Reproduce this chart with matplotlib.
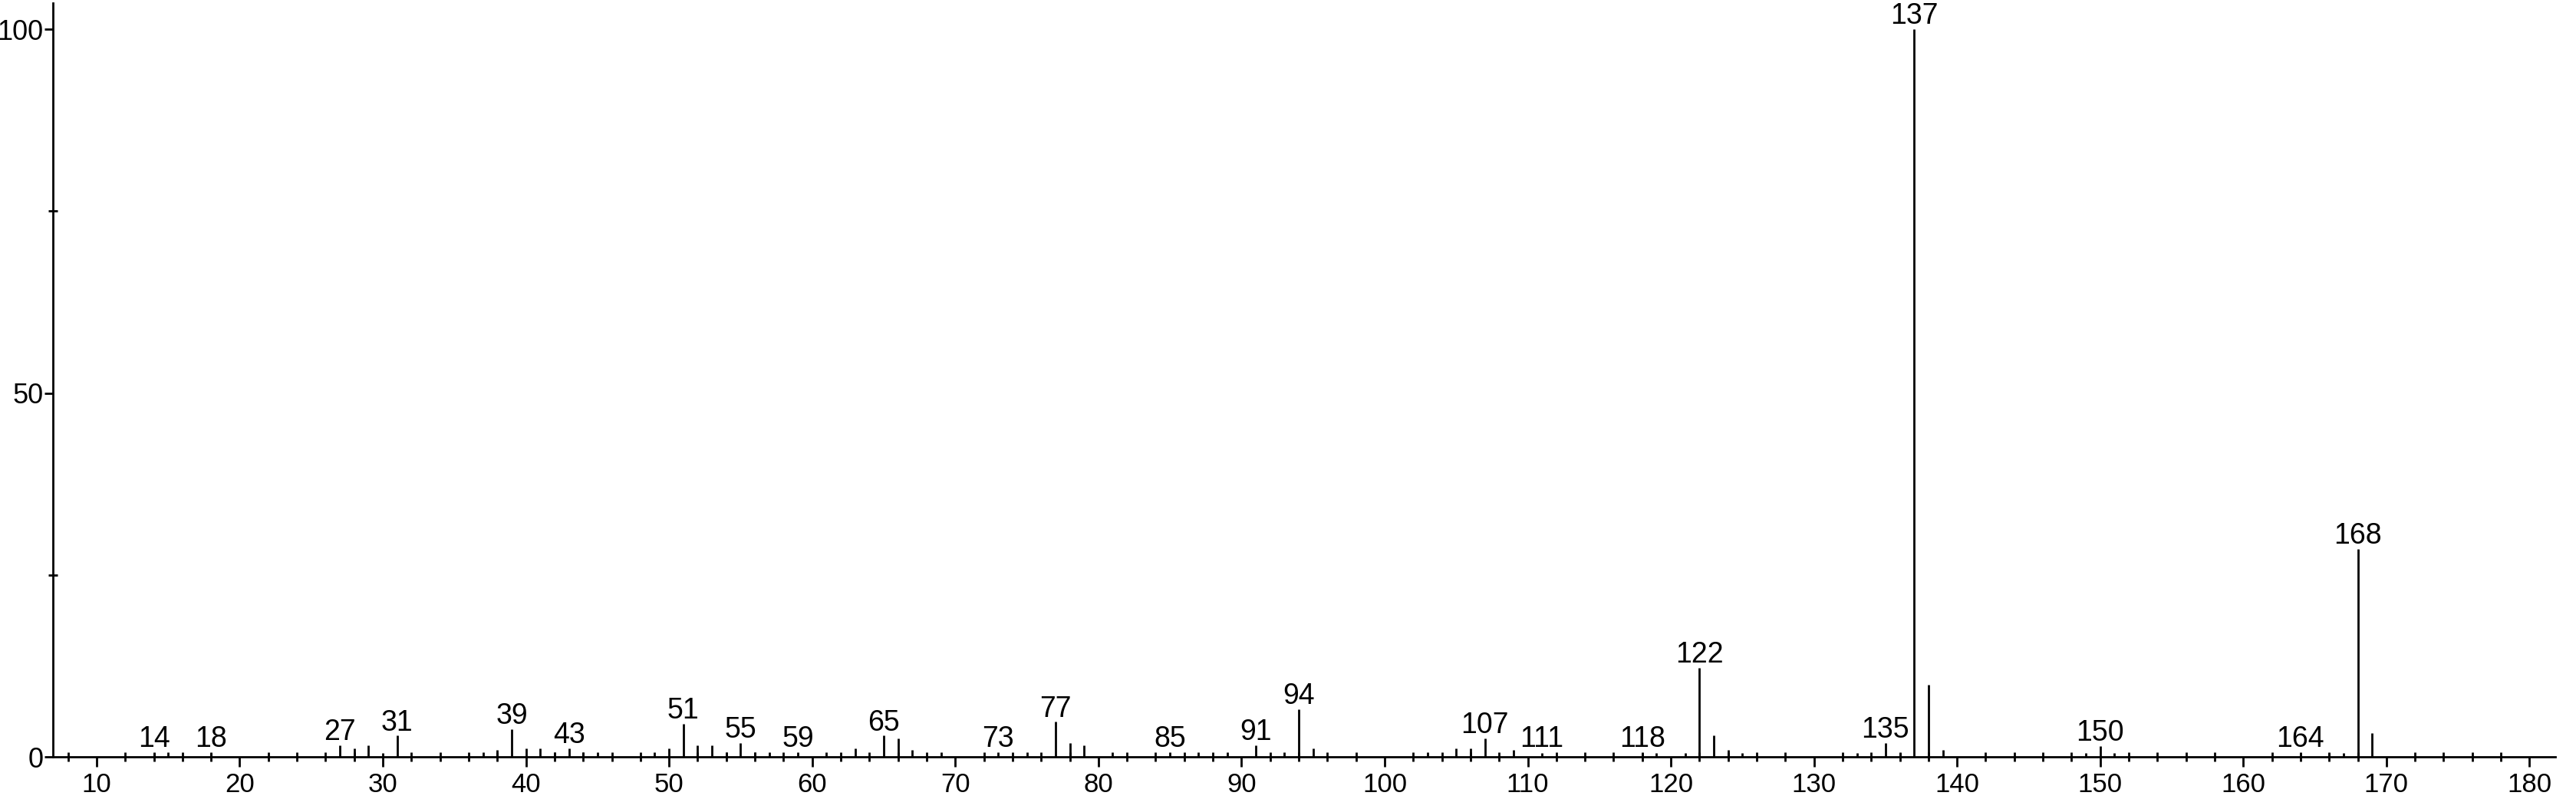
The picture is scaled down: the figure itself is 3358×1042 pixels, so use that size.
import matplotlib.pyplot as plt
from matplotlib.ticker import MultipleLocator, FixedLocator

plt.rcParams['font.family'] = ['Liberation Sans', 'DejaVu Sans']

# m/z and relative intensity
mz = [14, 15, 18, 27, 28, 29, 30, 31, 37, 38, 39, 40, 41, 42, 43, 44, 45,
      49, 50, 51, 52, 53, 54, 55, 56, 57, 59, 61, 63, 65, 66, 67, 69, 73,
      75, 77, 78, 79, 81, 85, 87, 89, 91, 93, 94, 95, 103, 105, 106, 107,
      109, 111, 118, 119, 121, 122, 123, 124, 125, 133, 135, 136, 137, 138,
      139, 149, 150, 151, 164, 166, 167, 168, 169]
intensity = [0.5, 0.6, 0.5, 1.6, 1.2, 1.6, 0.5, 2.9, 0.6, 0.95, 3.8, 1.2,
             1.2, 0.6, 1.2, 0.6, 0.6, 0.6, 1.2, 4.5, 1.6, 1.6, 0.6, 1.9, 0.6,
             0.6, 0.6, 0.6, 1.2, 2.9, 2.5, 0.9, 0.6, 0.6, 0.6, 4.8, 1.9, 1.6,
             0.6, 0.6, 0.6, 0.6, 1.6, 0.6, 6.5, 1.2, 0.6, 1.2, 1.2, 2.5, 0.9,
             0.5, 0.5, 0.5, 0.5, 12.2, 2.9, 0.9, 0.5, 0.5, 1.9, 0.5, 100.0,
             9.9, 0.9, 0.5, 1.5, 0.5, 0.5, 0.5, 0.5, 28.6, 3.3]

labeled = [14, 18, 27, 31, 39, 43, 51, 55, 59, 65, 73, 77, 85, 91, 94, 107,
           111, 118, 122, 135, 137, 150, 164, 168]

fig = plt.figure(figsize=(33.58, 10.42), dpi=100)
ax = fig.add_axes([0.02055, 0.05278, 0.97141, 0.94338])

ax.vlines(mz, 0, intensity, colors='black', linewidth=2.0)

for m in labeled:
    h = intensity[mz.index(m)]
    ax.annotate(str(m), (m, max(h, 0.6)), xytext=(0, 5), textcoords='offset points',
                ha='center', va='baseline', fontsize=27)

ax.set_xlim(6.95, 181.8)
ax.set_ylim(0, 103.6)

for s in ['top', 'right']:
    ax.spines[s].set_visible(False)
for s in ['left', 'bottom']:
    ax.spines[s].set_linewidth(2.0)

ax.xaxis.set_major_locator(MultipleLocator(10))
ax.xaxis.set_minor_locator(MultipleLocator(2))
ax.yaxis.set_major_locator(FixedLocator([0, 50, 100]))
ax.yaxis.set_minor_locator(FixedLocator([25, 75]))

ax.tick_params(axis='x', which='major', direction='out', length=9.5, width=2.0,
               labelsize=25, pad=5)
ax.tick_params(axis='x', which='minor', direction='inout', length=8.5, width=2.0)
ax.tick_params(axis='y', which='major', direction='out', length=8, width=2.0,
               labelsize=26, pad=1)
ax.tick_params(axis='y', which='minor', direction='inout', length=8, width=2.0)

fig.savefig('out.png', dpi=100)
